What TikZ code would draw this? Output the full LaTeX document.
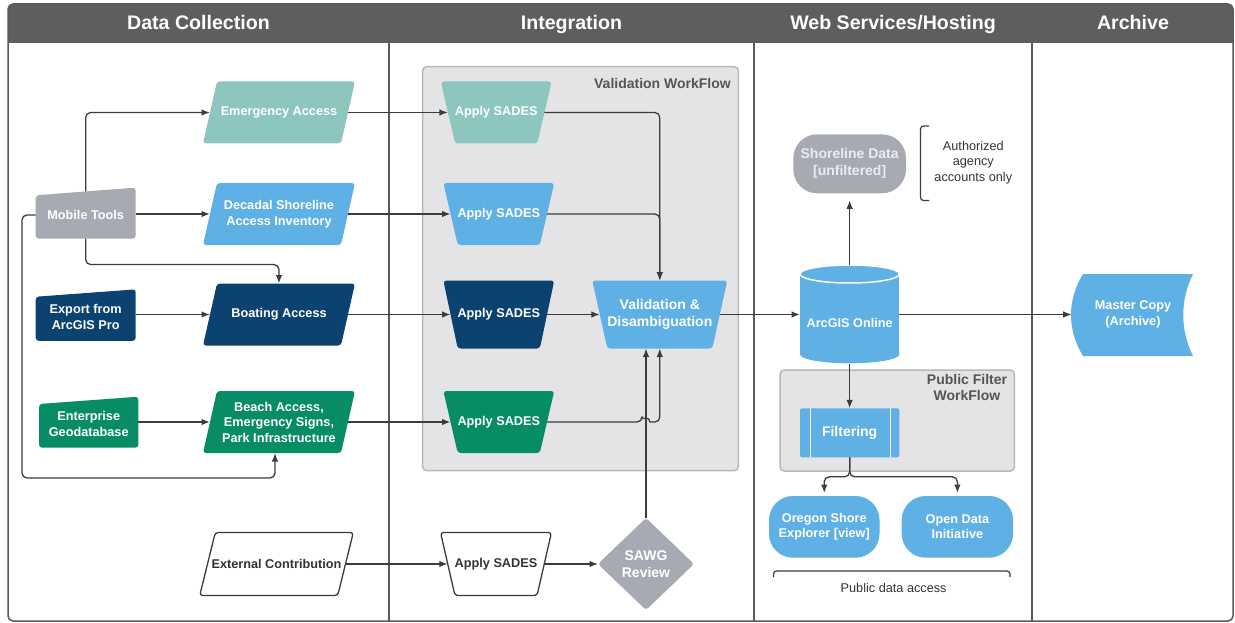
\documentclass[tikz,border=0pt]{standalone}
\usepackage{fontspec}
\setmainfont{Liberation Sans}
\usetikzlibrary{arrows.meta,calc}

\definecolor{cteal}{HTML}{8DC6BF}
\definecolor{cblue}{HTML}{5FB0E4}
\definecolor{cdark}{HTML}{0C426F}
\definecolor{cgreen}{HTML}{078C65}
\definecolor{cgray}{HTML}{A8AAB3}
\definecolor{chead}{HTML}{5E5E5E}
\definecolor{cwf}{HTML}{E4E4E7}
\definecolor{cwfb}{HTML}{B7B7BC}
\definecolor{cline}{HTML}{3C3C3C}
\definecolor{ctxt}{HTML}{333333}
\definecolor{cwft}{HTML}{555555}
\definecolor{cframe}{HTML}{5A5A5A}
\definecolor{cshore}{HTML}{ECECEE}

% parallelogram: name, cx, cy, midwidth, height, halfslant, shape style, node opts, text
\newcommand\paranode[9]{%
  \path[#7, rounded corners=3pt] ({#2-#4/2+#6},{#3-#5/2}) -- ({#2+#4/2+#6},{#3-#5/2}) -- ({#2+#4/2-#6},{#3+#5/2}) -- ({#2-#4/2-#6},{#3+#5/2}) -- cycle;
  \node[lbl, minimum width=#4, minimum height=#5, #8] (#1) at (#2,#3) {#9};
}
% manual operation trapezium: wide top, narrow bottom
\newcommand\trapnode[9]{%
  \path[#7, rounded corners=3pt] ({#2-#4/2-#6},{#3-#5/2}) -- ({#2+#4/2+#6},{#3-#5/2}) -- ({#2+#4/2-#6},{#3+#5/2}) -- ({#2-#4/2+#6},{#3+#5/2}) -- cycle;
  \node[lbl, minimum width=#4, minimum height=#5, #8] (#1) at (#2,#3) {#9};
}
% manual input: sloped top
\newcommand\minputnode[9]{%
  \path[#7, rounded corners=3pt] ({#2-#4/2},{#3-#5/2+#6/2}) -- ({#2+#4/2},{#3-#5/2-#6/2}) -- ({#2+#4/2},{#3+#5/2}) -- ({#2-#4/2},{#3+#5/2}) -- cycle;
  \node[lbl, minimum width=#4, minimum height=#5, #8] (#1) at (#2,#3) {#9};
}

\begin{document}
\begin{tikzpicture}[x=1pt,y=-1pt,
  lbl/.style={inner sep=0pt, outer sep=0pt, align=center, text=white, font=\fontsize{12.7}{15.5}\selectfont\bfseries},
  big/.style={font=\fontsize{14}{17}\selectfont\bfseries},
  hdr/.style={inner sep=0pt, anchor=base, text=white, font=\fontsize{19.6}{22}\selectfont\bfseries},
  wft/.style={inner sep=0pt, align=center, text=cwft, font=\fontsize{14}{16.4}\selectfont\bfseries},
  note/.style={inner sep=0pt, align=center, text=ctxt, font=\fontsize{12.7}{15.5}\selectfont},
  arr/.style={draw=cline, line width=1.3pt, -{Latex[length=8.5pt,width=6.5pt]}, rounded corners=5pt},
  wfbox/.style={fill=cwf, draw=cwfb, line width=1.5pt, rounded corners=4pt},
  lane/.style={draw=cframe, line width=1.5pt}
]
\useasboundingbox (0,0) rectangle (1235,623);
\fill[white] (0,0) rectangle (1235,623);

% header
\fill[chead, rounded corners=5pt] (8,4) rectangle (1233,43);
\fill[chead] (8,30) rectangle (1233,43);
\node[hdr] (h1) at (198.5,29.5) {Data Collection};
\node[hdr] (h2) at (571.5,29.5) {Integration};
\node[hdr] (h3) at (893,29.5) {Web Services/Hosting};
\node[hdr] (h4) at (1133,29.5) {Archive};

% lanes and frame
\draw[lane] (389,43) -- (389,621) (754,43) -- (754,621) (1032,43) -- (1032,621);
\draw[lane, rounded corners=5pt] (8,4) rectangle (1233,621);

% workflow boxes
\draw[wfbox] (422.7,66.7) rectangle (738.3,470.7);
\node[wft, anchor=base east] (vwt) at (731,89) {Validation WorkFlow};
\draw[wfbox] (780.2,370) rectangle (1014.3,471);
\node[wft, anchor=north] (pwt) at (967,374) {Public Filter\\WorkFlow};

% data collection
\minputnode{mt}{85.7}{215}{100}{47.1}{7.7}{fill=cgray}{}{Mobile Tools}
\minputnode{ex}{85.7}{316.9}{100}{47.7}{7.4}{fill=cdark}{}{Export from\\ArcGIS Pro}
\minputnode{eg}{88.7}{424}{99.3}{47.3}{7.3}{fill=cgreen}{}{Enterprise\\Geodatabase}

\paranode{ea}{279}{112.5}{138}{62}{7}{fill=cteal}{}{Emergency Access}
\paranode{dsi}{279}{214}{138}{62}{7}{fill=cblue}{}{Decadal Shoreline\\Access Inventory}
\paranode{bo}{279}{314.5}{138}{62}{7}{fill=cdark}{}{Boating Access}
\paranode{bch}{279}{422}{138}{62}{7}{fill=cgreen}{}{Beach Access,\\Emergency Signs,\\Park Infrastructure}
\paranode{ec}{276.5}{564}{138}{63}{7.8}{fill=white,draw=cline,line width=1.3pt}{text=ctxt}{External Contribution}

% integration
\trapnode{as1}{496.2}{112.5}{96.5}{62}{7.2}{fill=cteal}{}{Apply SADES}
\trapnode{as2}{498.8}{214}{96.5}{62}{7.2}{fill=cblue}{}{Apply SADES}
\trapnode{as3}{498.8}{314.5}{96.5}{68}{7.2}{fill=cdark}{}{Apply SADES}
\trapnode{as4}{498.8}{422}{96.5}{62}{7.2}{fill=cgreen}{}{Apply SADES}
\trapnode{as5}{496}{564}{96.5}{63}{7.2}{fill=white,draw=cline,line width=1.3pt}{text=ctxt}{Apply SADES}
\trapnode{vd}{659.8}{314.5}{120}{68}{7.5}{fill=cblue}{big}{Validation \&\\Disambiguation}

\path[fill=cgray, rounded corners=3pt] (646,518) -- (694,564) -- (646,610) -- (598,564) -- cycle;
\node[lbl, big, minimum width=96, minimum height=92] (sawg) at (646,564) {SAWG\\Review};

% web services
\node[lbl, big, fill=cgray, rounded corners=24pt, minimum width=112.7, minimum height=59, text=cshore] (sd) at (849.65,163.8) {Shoreline Data\\{[unfiltered]}};
\draw[cline, line width=1.2pt, rounded corners=3pt] (929,126) -- (920.5,126) -- (920.5,200.5) -- (929,200.5);
\node[note] (auth) at (973.3,162.5) {Authorized\\agency\\accounts only};

\fill[cblue] (800,274) rectangle (899.3,354.3);
\fill[cblue] (849.65,354.3) ellipse [x radius=49.65pt, y radius=9pt];
\filldraw[fill=cblue, draw=white, line width=1.5pt] (849.65,274) ellipse [x radius=49.65pt, y radius=9pt];
\node[lbl, minimum width=99.3, minimum height=98.3] (ao) at (849.65,314.5) {};
\node[lbl] (aol) at (849.65,322.7) {ArcGIS Online};

\fill[cblue, rounded corners=2pt] (800,408.3) rectangle (899.3,457.3);
\draw[white, line width=1pt] (810,408.3) -- (810,457.3) (890.5,408.3) -- (890.5,457.3);
\node[lbl, big, minimum width=99.3, minimum height=49] (flt) at (849.65,432.8) {Filtering};

\node[lbl, fill=cblue, rounded corners=24pt, minimum width=110.5, minimum height=61.7] (ose) at (824.25,526.85) {Oregon Shore\\Explorer [view]};
\node[lbl, fill=cblue, rounded corners=24pt, minimum width=111.4, minimum height=61.7] (odi) at (957.4,526.85) {Open Data\\Initiative};

\draw[cline, line width=1.2pt, rounded corners=3pt] (773.5,577) -- (773.5,571) -- (1010,571) -- (1010,577);
\node[note, anchor=base] (pda) at (893.6,592.7) {Public data access};

% archive
\path[fill=cblue] (1083,274) -- (1193,274) .. controls (1180,300) and (1180,330) .. (1193,356) -- (1083,356) .. controls (1067,330) and (1067,300) .. (1083,274) -- cycle;
\node[lbl, minimum width=122.6, minimum height=82] (mc) at (1133,314.5) {Master Copy\\(Archive)};

% connectors
\coordinate (lp) at (22,478);
\draw[arr] (mt.north) |- (ea.west);
\draw[arr] (mt.east |- dsi.west) -- (dsi.west);
\draw[arr] (mt.south) -- ++(0,26) -| (bo.north);
\draw[arr] (mt.west) -| (lp) -| ([xshift=-4pt]bch.south);
\draw[arr] (ex.east |- bo.west) -- (bo.west);
\draw[arr] (eg.east |- bch.west) -- (bch.west);
\draw[arr] (ea.east) -- (as1.west);
\draw[arr] (dsi.east) -- (as2.west);
\draw[arr] (bo.east) -- (as3.west);
\draw[arr] (bch.east) -- (as4.west);
\draw[arr] (ec.east) -- (as5.west);
\draw[arr] (as1.east) -| (vd.north);
\draw[arr] (as2.east) -| (vd.north);
\draw[arr] (as3.east) -- (vd.west);
\draw[arr] (as4.east) -- ($(sawg.north |- as4.east)+(-4,0)$) [sharp corners] arc[start angle=180, end angle=0, radius=4pt] [rounded corners=5pt] -| (vd.south);
\draw[arr] (as5.east) -- (sawg.west);
\draw[arr] (sawg.north) -- (sawg.north |- vd.south);
\draw[arr] (vd.east) -- (ao.west);
\draw[arr] (ao.east) -- (mc.west);
\draw[arr, shorten >=7pt] (ao.north) -- (sd.south);
\draw[arr] (ao.south) -- (flt.north);
\draw[arr, shorten >=3pt] (flt.south) -- ++(0,19.5) -| (ose.north);
\draw[arr, shorten >=3pt] (flt.south) -- ++(0,19.5) -| (odi.north);
\end{tikzpicture}
\end{document}
